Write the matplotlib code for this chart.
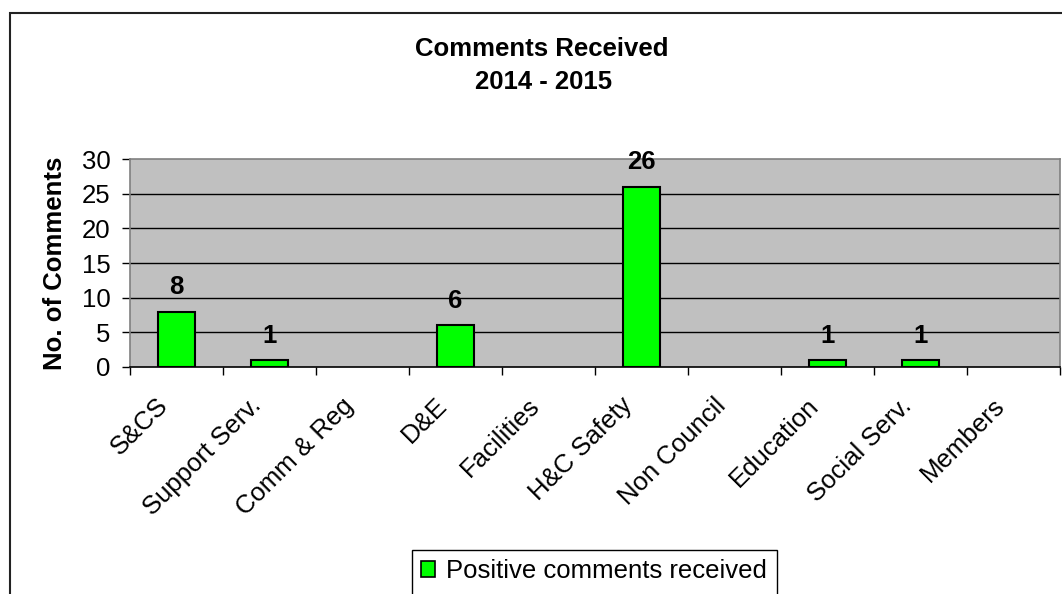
import matplotlib
matplotlib.use("Agg")
import matplotlib.pyplot as plt
from matplotlib.patches import Rectangle, Patch
from matplotlib.transforms import ScaledTranslation
import numpy as np

categories = ["S&CS", "Support Serv.", "Comm & Reg", "D&E", "Facilities",
              "H&C Safety", "Non Council", "Education", "Social Serv.", "Members"]
values = [8, 1, 0, 6, 0, 26, 0, 1, 1, 0]
series_name = "Positive comments received"
title_lines = ["Comments Received", "2014 - 2015"]
ylabel = "No. of Comments"
yticks = [0, 5, 10, 15, 20, 25, 30]

plt.rcParams['font.family'] = ['Liberation Sans', 'DejaVu Sans']
FS = 18.5

W, H = 1062, 594
fig = plt.figure(figsize=(W / 100, H / 100), dpi=100)

# outer chart border
fig.add_artist(Rectangle((10 / W, 0 - 0.05), 1.2, (H - 13) / H + 0.05,
                         transform=fig.transFigure, fill=False,
                         edgecolor='#222222', linewidth=1.5))

ax = fig.add_axes([130 / W, 1 - 367 / H, (1060 - 130) / W, (367 - 159) / H])
ax.set_facecolor('#C0C0C0')
x = np.arange(len(categories))
bars = ax.bar(x, values, width=0.4, color='#00FF00', edgecolor='black',
              linewidth=[1.5 if v else 0 for v in values], zorder=3)
ax.bar_label(bars, labels=[str(v) if v else '' for v in values], padding=9,
             fontsize=FS, fontweight='bold')

ax.set_xlim(-0.5, len(categories) - 0.5)
ax.set_ylim(0, 30)
ax.set_yticks(yticks)
ax.set_yticklabels([str(t) for t in yticks], fontsize=FS)
ax.tick_params(axis='y', length=6, width=1, color='black', pad=8)
for t in yticks[1:-1]:
    ax.axhline(t, color='black', linewidth=1, zorder=1)

ax.set_xticks(x)
ax.set_xticklabels(categories, rotation=45, ha='right', rotation_mode='anchor',
                   fontsize=FS)
ax.tick_params(axis='x', which='major', length=0, pad=19)
shift = ScaledTranslation(-21 / 100, 0, fig.dpi_scale_trans)
for lab in ax.get_xticklabels():
    lab.set_transform(lab.get_transform() + shift)
ax.set_xticks(np.arange(-0.5, len(categories), 1), minor=True)
ax.tick_params(axis='x', which='minor', length=6, width=1, color='black')

for s in ['top', 'right', 'left']:
    ax.spines[s].set_color('#808080')
    ax.spines[s].set_linewidth(1.2)
ax.spines['bottom'].set_color('black')
ax.spines['bottom'].set_linewidth(1.2)

ax.set_ylabel(ylabel, fontsize=FS, fontweight='bold', labelpad=11)

fig.text(542 / W, 1 - 49 / H, title_lines[0], ha='center', va='center',
         fontsize=FS, fontweight='bold')
fig.text(544 / W, 1 - 82 / H, title_lines[1], ha='center', va='center',
         fontsize=FS, fontweight='bold')

# legend with frame extending beyond the bottom edge
fig.add_artist(Rectangle((412 / W, -0.05), (777 - 412) / W, (594 - 550) / H + 0.05,
                         transform=fig.transFigure, fill=False,
                         edgecolor='black', linewidth=1))
handle = Patch(facecolor='#00FF00', edgecolor='black', linewidth=1.2)
fig.legend([handle], [series_name], loc='center', frameon=False,
           bbox_to_anchor=(594 / W, 1 - 571 / H), fontsize=FS,
           handlelength=0.55, handleheight=0.55, handletextpad=0.45)

fig.savefig('out.png', dpi=100)
